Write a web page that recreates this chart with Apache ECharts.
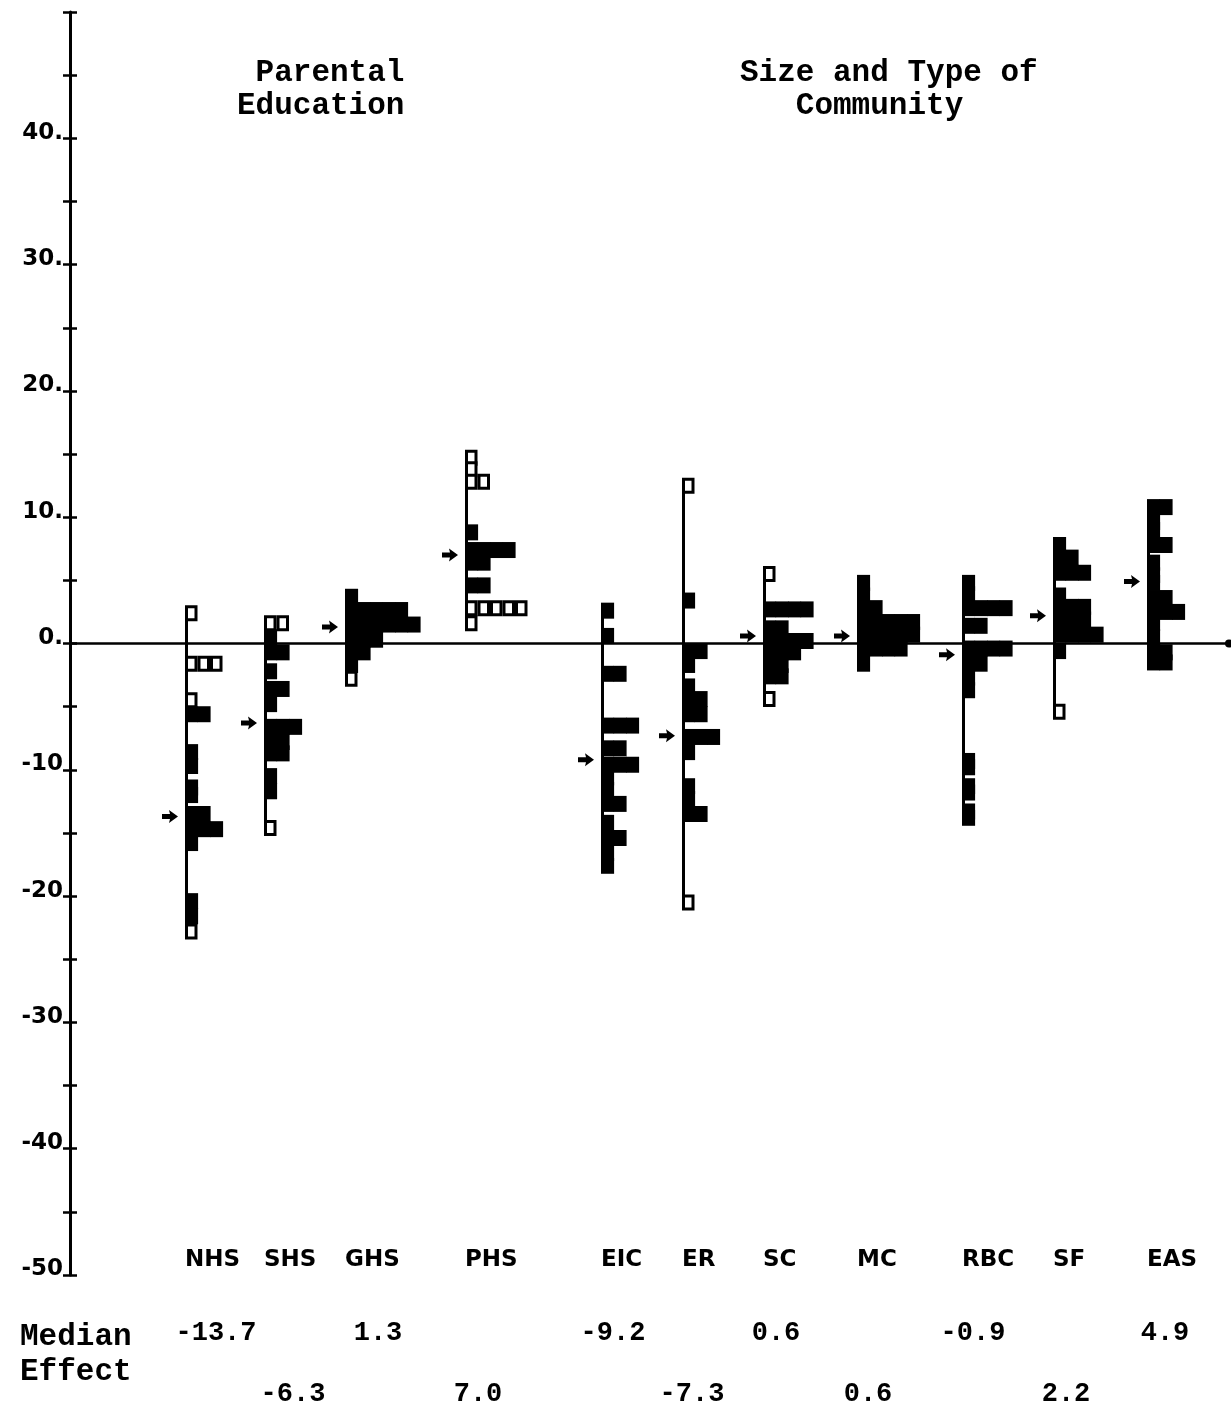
<!DOCTYPE html>
<html>
<head>
<meta charset="utf-8">
<script src="https://cdn.jsdelivr.net/npm/echarts@6/dist/echarts.min.js"></script>
<style>
html,body{margin:0;padding:0;background:#fff;}
#chart{width:1231px;height:1415px;}
</style>
</head>
<body>
<div id="chart"></div>
<script>
// ---------------- DATA ----------------
const categories = ['NHS','SHS','GHS','PHS','EIC','ER','SC','MC','RBC','SF','EAS'];
const medianEffects = [-13.7, -6.3, 1.3, 7.0, -9.2, -7.3, 0.6, 0.6, -0.9, 2.2, 4.9];
const groupTitles = [' Parental\nEducation', 'Size and Type of\n   Community'];
const medianCaption = 'Median\nEffect';
const yTickValues = [40, 30, 20, 10, 0, -10, -20, -30, -40, -50];
const yTickLabels = ['40.', '30.', '20.', '10.', '0.', '-10', '-20', '-30', '-40', '-50'];

// rows of squares: [effect value, number of squares, open square (1) / filled (0)]
const rowsNHS = [[2.4,1,1],[-1.6,3,1],[-4.5,1,1],[-5.6,2,0],[-8.6,1,0],[-9.7,1,0],[-11.4,1,0],[-12.0,1,0],[-13.5,2,0],[-14.7,3,0],[-15.8,1,0],[-20.4,1,0],[-21.6,1,0],[-22.8,1,1]];
const rowsSHS = [[1.6,2,1],[0.5,1,0],[-0.7,2,0],[-2.2,1,0],[-3.6,2,0],[-4.8,1,0],[-6.6,3,0],[-7.8,2,0],[-8.7,2,0],[-10.5,1,0],[-11.7,1,0],[-14.6,1,1]];
const rowsGHS = [[3.7,1,0],[2.65,5,0],[1.5,6,0],[0.3,3,0],[-0.7,2,0],[-1.7,1,0],[-2.8,1,1]];
const rowsPHS = [[14.7,1,1],[13.8,1,1],[12.8,2,1],[8.8,1,0],[7.4,4,0],[6.4,2,0],[4.6,2,0],[2.8,5,1],[1.6,1,1]];
const rowsEIC = [[2.6,1,0],[0.6,1,0],[-2.4,2,0],[-6.5,3,0],[-8.3,2,0],[-9.6,3,0],[-10.6,1,0],[-11.6,1,0],[-12.7,2,0],[-14.2,1,0],[-15.4,2,0],[-16.6,1,0],[-17.6,1,0]];
const rowsER  = [[12.5,1,1],[3.4,1,0],[-0.6,2,0],[-1.7,1,0],[-3.4,1,0],[-4.4,2,0],[-5.6,2,0],[-7.4,3,0],[-8.6,1,0],[-11.3,1,0],[-12.3,1,0],[-13.5,2,0],[-20.5,1,1]];
const rowsSC  = [[5.5,1,1],[2.7,4,0],[1.2,2,0],[0.2,4,0],[-0.7,3,0],[-1.7,2,0],[-2.6,2,0],[-4.4,1,1]];
const rowsMC  = [[4.8,1,0],[3.8,1,0],[2.8,2,0],[1.7,5,0],[0.7,5,0],[-0.4,4,0],[-1.6,1,0]];
const rowsRBC = [[4.8,1,0],[3.9,1,0],[2.8,4,0],[1.4,2,0],[-0.4,4,0],[-1.6,2,0],[-2.7,1,0],[-3.7,1,0],[-9.3,1,0],[-9.8,1,0],[-11.3,1,0],[-11.8,1,0],[-13.3,1,0],[-13.8,1,0]];
const rowsSF  = [[7.8,1,0],[6.8,2,0],[5.6,3,0],[3.8,1,0],[2.9,3,0],[1.9,3,0],[0.7,4,0],[-0.6,1,0],[-5.4,1,1]];
const rowsEAS = [[10.8,2,0],[9.6,1,0],[9.0,1,0],[7.8,2,0],[6.4,1,0],[5.4,1,0],[4.8,1,0],[3.6,2,0],[2.5,3,0],[1.6,1,0],[0.5,1,0],[-0.7,2,0],[-1.5,2,0]];

// ---------------- LAYOUT (positions along the hidden x scale) ----------------
const columnX = [185, 264, 345, 465, 601, 682, 763, 857, 962, 1053, 1147];
const medianTextX = [216, 293, 378, 478, 613, 692, 776, 868, 973, 1066, 1165];
const LABEL_Y = -48.8, MEDIAN_ROW1_Y = -54.6, MEDIAN_ROW2_Y = -59.4;
const SQ_W = 12.5, SQ_H = 16;

const columns = [rowsNHS, rowsSHS, rowsGHS, rowsPHS, rowsEIC, rowsER, rowsSC, rowsMC, rowsRBC, rowsSF, rowsEAS];

const squareData = [];
columns.forEach((rows, i) => rows.forEach(r => squareData.push([columnX[i], r[0], r[1], r[2]])));
const stemData = columns.map((rows, i) => {
  const vals = rows.map(r => r[0]);
  return [columnX[i], Math.max.apply(null, vals), Math.min.apply(null, vals)];
});
const arrowData = medianEffects.map((m, i) => [columnX[i], m]);
const catLabelData = categories.map((c, i) => [columnX[i], LABEL_Y]);
const medianTextData = medianEffects.map((m, i) => [medianTextX[i], i % 2 === 0 ? MEDIAN_ROW1_Y : MEDIAN_ROW2_Y]);

const FONT_DOT = 'bold 23px "DejaVu Sans"';
const FONT_TYPE = 'bold 31px "Liberation Mono"';
const FONT_NUM = 'bold 27px "Liberation Mono"';

const chart = echarts.init(document.getElementById('chart'), null, {renderer: 'canvas'});

const tickStyle = {color: '#000', width: 2.5};

const option = {
  animation: false,
  backgroundColor: '#fff',
  grid: {left: 70, right: 2, top: 12, bottom: 140, containLabel: false},
  xAxis: {
    type: 'value', min: 70, max: 1229,
    axisLine: {show: true, onZero: true, symbol: ['none', 'circle'], symbolSize: [8, 8], lineStyle: {color: '#000', width: 2.5}},
    axisTick: {show: false}, axisLabel: {show: false}, splitLine: {show: false}
  },
  yAxis: [
    {
      type: 'value', min: -50, max: 50, interval: 5, position: 'left',
      axisLine: {show: true, onZero: false, lineStyle: {color: '#000', width: 3}},
      axisTick: {show: true, inside: false, length: 7, lineStyle: tickStyle},
      axisLabel: {
        show: true, margin: 7, color: '#000', fontFamily: 'DejaVu Sans', fontWeight: 'bold', fontSize: 23,
        verticalAlign: 'bottom', lineHeight: 11,
        formatter: function (v) { const k = yTickValues.indexOf(v); return k >= 0 ? yTickLabels[k] : ''; }
      },
      splitLine: {show: false}
    },
    {
      type: 'value', min: -50, max: 50, interval: 5, position: 'left',
      axisLine: {show: false, onZero: false},
      axisTick: {show: true, inside: true, length: 7, lineStyle: tickStyle},
      axisLabel: {show: false}, splitLine: {show: false}
    }
  ],
  series: [
    {
      type: 'custom', name: 'stems', data: stemData, clip: false, z: 2,
      renderItem: function (params, api) {
        const t = api.coord([api.value(0), api.value(1)]);
        const b = api.coord([api.value(0), api.value(2)]);
        return {type: 'line', shape: {x1: t[0] + 1.5, y1: t[1], x2: b[0] + 1.5, y2: b[1]}, style: {stroke: '#000', lineWidth: 3}};
      }
    },
    {
      type: 'custom', name: 'squares', data: squareData, clip: false, z: 3,
      renderItem: function (params, api) {
        const p = api.coord([api.value(0), api.value(1)]);
        const n = api.value(2), open = api.value(3);
        const children = [];
        for (let k = 0; k < n; k++) {
          const x = p[0] + k * SQ_W, y = p[1] - SQ_H / 2;
          if (open) {
            children.push({type: 'rect', shape: {x: x + 1.5, y: y + 1.5, width: SQ_W - 3, height: SQ_H - 3}, style: {fill: '#fff', stroke: '#000', lineWidth: 3}});
          } else {
            children.push({type: 'rect', shape: {x: x, y: y, width: SQ_W + 0.6, height: SQ_H}, style: {fill: '#000'}});
          }
        }
        return {type: 'group', children: children};
      }
    },
    {
      type: 'custom', name: 'median arrows', data: arrowData, clip: false, z: 3,
      renderItem: function (params, api) {
        const p = api.coord([api.value(0), api.value(1)]);
        const tx = p[0] - 7, ty = p[1];
        return {type: 'polygon', shape: {points: [[tx - 16, ty - 2.5], [tx - 8, ty - 2.5], [tx - 9, ty - 6.5], [tx, ty], [tx - 9, ty + 6.5], [tx - 8, ty + 2.5], [tx - 16, ty + 2.5]]}, style: {fill: '#000'}};
      }
    },
    {
      type: 'custom', name: 'category labels', data: catLabelData, clip: false, z: 3,
      renderItem: function (params, api) {
        const p = api.coord([api.value(0), api.value(1)]);
        return {type: 'text', x: p[0], y: p[1], style: {text: categories[params.dataIndex], font: FONT_DOT, fill: '#000', textAlign: 'left', textVerticalAlign: 'middle', align: 'left', verticalAlign: 'middle'}};
      }
    },
    {
      type: 'custom', name: 'median values', data: medianTextData, clip: false, z: 3,
      renderItem: function (params, api) {
        const p = api.coord([api.value(0), api.value(1)]);
        return {type: 'text', x: p[0], y: p[1], style: {text: medianEffects[params.dataIndex].toFixed(1), font: FONT_NUM, fill: '#000', textAlign: 'center', textVerticalAlign: 'middle', align: 'center', verticalAlign: 'middle'}};
      }
    }
  ],
  graphic: [
    {type: 'text', x: 237, y: 57, style: {text: groupTitles[0], font: FONT_TYPE, lineHeight: 33, fill: '#000'}},
    {type: 'text', x: 740, y: 57, style: {text: groupTitles[1], font: FONT_TYPE, lineHeight: 33, fill: '#000'}},
    {type: 'text', x: 20, y: 1320, style: {text: medianCaption, font: FONT_TYPE, lineHeight: 35, fill: '#000'}}
  ]
};
chart.setOption(option);
</script>
</body>
</html>
